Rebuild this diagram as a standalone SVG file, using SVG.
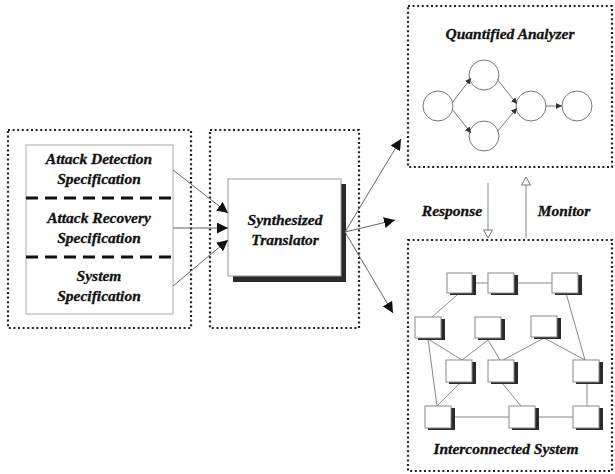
<svg xmlns="http://www.w3.org/2000/svg" width="615" height="474" viewBox="0 0 615 474">
<defs>
<style>
.dot{fill:none;stroke:#222;stroke-width:2.2;stroke-dasharray:2 2.6}
.t{font-family:"Liberation Serif","Times New Roman",serif;font-weight:bold;font-style:italic;font-size:15.5px;fill:#111;stroke:#111;stroke-width:0.3;text-anchor:middle}
.ar{stroke:#666;stroke-width:1;fill:none;marker-end:url(#ah)}
.g{stroke:#777;stroke-width:1;fill:none;marker-end:url(#sa)}
.c{fill:#fff;stroke:#777;stroke-width:1}
.nb{fill:#fff;stroke:#888;stroke-width:1}
.sh{fill:#2a2a2a}
.ed{stroke:#888;stroke-width:1}
.ho{stroke:#888;stroke-width:1;fill:none;marker-end:url(#ho)}
</style>
<marker id="ah" viewBox="0 0 10 10" refX="10" refY="5" markerWidth="11" markerHeight="11" markerUnits="userSpaceOnUse" orient="auto"><path d="M0,0 L10,5 L0,10 Z" fill="#111"/></marker>
<marker id="sa" viewBox="0 0 10 10" refX="10" refY="5" markerWidth="6" markerHeight="6" markerUnits="userSpaceOnUse" orient="auto"><path d="M0,0 L10,5 L0,10 Z" fill="#333"/></marker>
<marker id="ho" viewBox="0 0 10 10" refX="9" refY="5" markerWidth="10" markerHeight="10" markerUnits="userSpaceOnUse" orient="auto"><path d="M1,0.5 L9,5 L1,9.5 Z" fill="#fff" stroke="#777" stroke-width="1"/></marker>
</defs>

<g id="spec-panel">
<rect class="dot" x="8" y="130" width="183" height="198"/>
<rect x="26" y="145" width="147" height="169" fill="#fff" stroke="#aaa" stroke-width="1"/>
<line x1="26" y1="198" x2="173" y2="198" stroke="#111" stroke-width="3" stroke-dasharray="12 7"/>
<line x1="26" y1="257" x2="173" y2="257" stroke="#111" stroke-width="3" stroke-dasharray="12 7"/>
<text class="t" x="99" y="164">Attack Detection</text>
<text class="t" x="99" y="184">Specification</text>
<text class="t" x="99" y="223">Attack Recovery</text>
<text class="t" x="99" y="243">Specification</text>
<text class="t" x="99" y="281">System</text>
<text class="t" x="99" y="301">Specification</text>
</g>

<g id="translator-panel">
<rect class="dot" x="210" y="130" width="149" height="198"/>
<rect class="sh" x="233" y="184" width="113" height="98"/>
<rect x="228" y="179" width="113" height="97" fill="#fff" stroke="#999" stroke-width="1"/>
<text class="t" x="285" y="225">Synthesized</text>
<text class="t" x="285" y="245">Translator</text>
</g>

<g id="analyzer-panel">
<rect class="dot" x="408" y="6" width="204" height="161"/>
<text class="t" x="510" y="39">Quantified Analyzer</text>
<circle class="c" cx="438" cy="106" r="15"/>
<circle class="c" cx="484" cy="75" r="15"/>
<circle class="c" cx="484" cy="136" r="15"/>
<circle class="c" cx="531" cy="106" r="15"/>
<circle class="c" cx="577" cy="106" r="15"/>
<line class="g" x1="452" y1="103" x2="471" y2="78"/>
<line class="g" x1="452" y1="109" x2="471" y2="133"/>
<line class="g" x1="497" y1="79" x2="517" y2="104"/>
<line class="g" x1="497" y1="132" x2="517" y2="108"/>
<line class="g" x1="546" y1="106" x2="562" y2="106"/>
</g>

<g id="system-panel">
<rect class="dot" x="408" y="240" width="204" height="231"/>
<g class="ed">
<line x1="472" y1="283" x2="488" y2="283"/>
<line x1="515" y1="283" x2="552" y2="283"/>
<line x1="457" y1="295" x2="432" y2="317"/>
<line x1="566" y1="293" x2="585" y2="360"/>
<line x1="428" y1="339" x2="462" y2="360"/>
<line x1="428" y1="339" x2="437" y2="406"/>
<line x1="488" y1="340" x2="462" y2="360"/>
<line x1="488" y1="340" x2="500" y2="360"/>
<line x1="544" y1="338" x2="503" y2="360"/>
<line x1="544" y1="338" x2="585" y2="360"/>
<line x1="460" y1="383" x2="437" y2="406"/>
<line x1="502" y1="383" x2="521" y2="406"/>
<line x1="587" y1="383" x2="587" y2="406"/>
<line x1="452" y1="417" x2="509" y2="417"/>
<line x1="536" y1="417" x2="573" y2="417"/>
</g>
<g id="n1"><rect class="sh" x="450" y="275" width="26" height="20"/><rect class="nb" x="447" y="273" width="25" height="20"/></g>
<g id="n2"><rect class="sh" x="491" y="275" width="27" height="20"/><rect class="nb" x="488" y="273" width="26" height="20"/></g>
<g id="n3"><rect class="sh" x="555" y="275" width="27" height="20"/><rect class="nb" x="552" y="273" width="26" height="20"/></g>
<g id="n4"><rect class="sh" x="418" y="319" width="27" height="21"/><rect class="nb" x="415" y="317" width="26" height="21"/></g>
<g id="n5"><rect class="sh" x="478" y="319" width="27" height="21"/><rect class="nb" x="475" y="317" width="26" height="21"/></g>
<g id="n6"><rect class="sh" x="534" y="318" width="27" height="21"/><rect class="nb" x="531" y="316" width="26" height="21"/></g>
<g id="n7"><rect class="sh" x="449" y="362" width="27" height="22"/><rect class="nb" x="446" y="360" width="26" height="22"/></g>
<g id="n8"><rect class="sh" x="491" y="362" width="27" height="22"/><rect class="nb" x="488" y="360" width="26" height="22"/></g>
<g id="n9"><rect class="sh" x="576" y="362" width="27" height="22"/><rect class="nb" x="573" y="360" width="26" height="22"/></g>
<g id="n10"><rect class="sh" x="428" y="408" width="27" height="22"/><rect class="nb" x="425" y="406" width="26" height="22"/></g>
<g id="n11"><rect class="sh" x="512" y="408" width="27" height="22"/><rect class="nb" x="509" y="406" width="26" height="22"/></g>
<g id="n12"><rect class="sh" x="576" y="408" width="27" height="22"/><rect class="nb" x="573" y="406" width="26" height="22"/></g>
<text class="t" x="506" y="454">Interconnected System</text>
</g>

<g id="labels">
<text class="t" x="452" y="216">Response</text>
<text class="t" x="564" y="216">Monitor</text>
</g>

<g id="connectors">
<line class="ar" x1="173" y1="170" x2="228" y2="213"/>
<line class="ar" x1="173" y1="228" x2="228" y2="228"/>
<line class="ar" x1="173" y1="286" x2="228" y2="240"/>
<line class="ar" x1="345" y1="232" x2="401" y2="139"/>
<line class="ar" x1="345" y1="232" x2="395" y2="220"/>
<line class="ar" x1="345" y1="232" x2="393" y2="313"/>
<line class="ho" x1="488" y1="183" x2="488" y2="238"/>
<line class="ho" x1="526" y1="238" x2="526" y2="177"/>
</g>
</svg>
